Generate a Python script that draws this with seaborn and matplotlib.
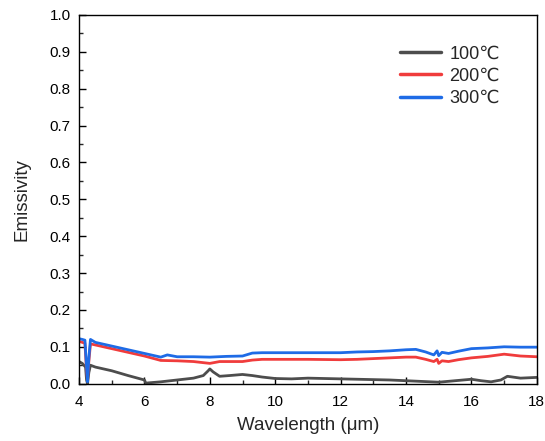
import numpy as np
import pandas as pd
import matplotlib
matplotlib.use("Agg")
import matplotlib.pyplot as plt
import seaborn as sns
from matplotlib.ticker import MultipleLocator

sns.set_style("ticks")
plt.rcParams['font.family'] = ['Liberation Sans', 'DejaVu Sans']

# wavelengths (um) and emissivity values
wl_100 = [4.0, 4.1, 4.2, 4.23, 4.26, 4.3, 4.35, 4.5, 5.0, 5.5, 6.0, 6.05, 6.1, 6.5, 7.0, 7.5, 7.8, 7.95, 8.0, 8.1, 8.3, 8.6, 9.0, 9.3, 9.6, 10.0, 10.5, 11.0, 11.5, 12.0, 12.5, 13.0, 13.5, 14.0, 14.5, 15.0, 15.5, 16.0, 16.3, 16.6, 16.9, 17.1, 17.5, 18.0]
em_100 = [0.060, 0.055, 0.045, 0.010, 0.000, 0.030, 0.050, 0.045, 0.035, 0.022, 0.010, 0.000, 0.002, 0.005, 0.010, 0.015, 0.022, 0.035, 0.040, 0.032, 0.020, 0.022, 0.025, 0.022, 0.018, 0.014, 0.013, 0.015, 0.014, 0.013, 0.012, 0.011, 0.010, 0.008, 0.006, 0.004, 0.008, 0.012, 0.008, 0.005, 0.010, 0.020, 0.015, 0.017]

wl_200 = [4.0, 4.1, 4.18, 4.22, 4.26, 4.3, 4.35, 4.5, 5.0, 5.5, 6.0, 6.5, 7.0, 7.5, 8.0, 8.3, 8.7, 9.0, 9.3, 9.6, 10.0, 11.0, 12.0, 12.5, 13.0, 13.5, 14.0, 14.3, 14.6, 14.85, 14.95, 15.0, 15.1, 15.3, 15.6, 16.0, 16.5, 17.0, 17.5, 18.0]
em_200 = [0.115, 0.112, 0.110, 0.050, 0.010, 0.060, 0.108, 0.105, 0.095, 0.085, 0.075, 0.063, 0.062, 0.060, 0.055, 0.060, 0.060, 0.060, 0.064, 0.066, 0.066, 0.066, 0.065, 0.066, 0.068, 0.070, 0.072, 0.072, 0.066, 0.060, 0.066, 0.055, 0.062, 0.060, 0.065, 0.070, 0.074, 0.080, 0.075, 0.073]

wl_300 = [4.0, 4.1, 4.18, 4.22, 4.26, 4.3, 4.35, 4.5, 5.0, 5.5, 6.0, 6.5, 6.7, 7.0, 7.5, 8.0, 8.5, 9.0, 9.3, 9.6, 10.0, 11.0, 12.0, 12.5, 13.0, 13.5, 14.0, 14.3, 14.6, 14.85, 14.95, 15.0, 15.1, 15.3, 15.6, 16.0, 16.5, 17.0, 17.5, 18.0]
em_300 = [0.122, 0.120, 0.118, 0.060, 0.005, 0.070, 0.120, 0.112, 0.102, 0.092, 0.082, 0.072, 0.078, 0.073, 0.073, 0.072, 0.074, 0.075, 0.083, 0.084, 0.084, 0.084, 0.084, 0.086, 0.087, 0.089, 0.092, 0.093, 0.086, 0.078, 0.089, 0.076, 0.085, 0.082, 0.088, 0.095, 0.097, 0.100, 0.099, 0.099]

labels = ['100℃', '200℃', '300℃']
colors = ['#4d4d4d', '#f03c3c', '#1e6be6']

frames = []
for wl, em, lab in zip([wl_100, wl_200, wl_300], [em_100, em_200, em_300], labels):
    frames.append(pd.DataFrame({'Wavelength': wl, 'Emissivity': em, 'Series': lab}))
df = pd.concat(frames, ignore_index=True)

fig, ax = plt.subplots(figsize=(5.45, 4.41), dpi=100)
fig.subplots_adjust(left=0.145, right=0.985, top=0.966, bottom=0.13)

sns.lineplot(data=df, x='Wavelength', y='Emissivity', hue='Series',
             hue_order=labels, palette=colors, linewidth=2.0, ax=ax,
             estimator=None, sort=False)

ax.set_xlim(4, 18)
ax.set_ylim(0, 1.0)
ax.xaxis.set_major_locator(MultipleLocator(2))
ax.xaxis.set_minor_locator(MultipleLocator(1))
ax.yaxis.set_major_locator(MultipleLocator(0.1))
ax.yaxis.set_minor_locator(MultipleLocator(0.05))
ax.tick_params(axis='both', which='major', direction='in', length=5, width=1, labelsize=11, colors='black')
ax.tick_params(axis='both', which='minor', direction='in', length=3, width=1)
ax.tick_params(axis='x', which='major', pad=8)
ax.tick_params(axis='y', which='major', pad=6)
for s in ax.spines.values():
    s.set_visible(True)
    s.set_linewidth(1)
    s.set_color('black')

ax.set_xlabel('Wavelength (μm)', fontsize=13.5, labelpad=6)
ax.set_ylabel('Emissivity', fontsize=13.5, labelpad=14)

leg = ax.legend(loc='upper right', bbox_to_anchor=(0.955, 0.962), frameon=False,
                fontsize=13, handlelength=2.3, handletextpad=0.45, labelspacing=0.3)
for line in leg.get_lines():
    line.set_linewidth(2.5)

fig.savefig('out.png', dpi=100)
